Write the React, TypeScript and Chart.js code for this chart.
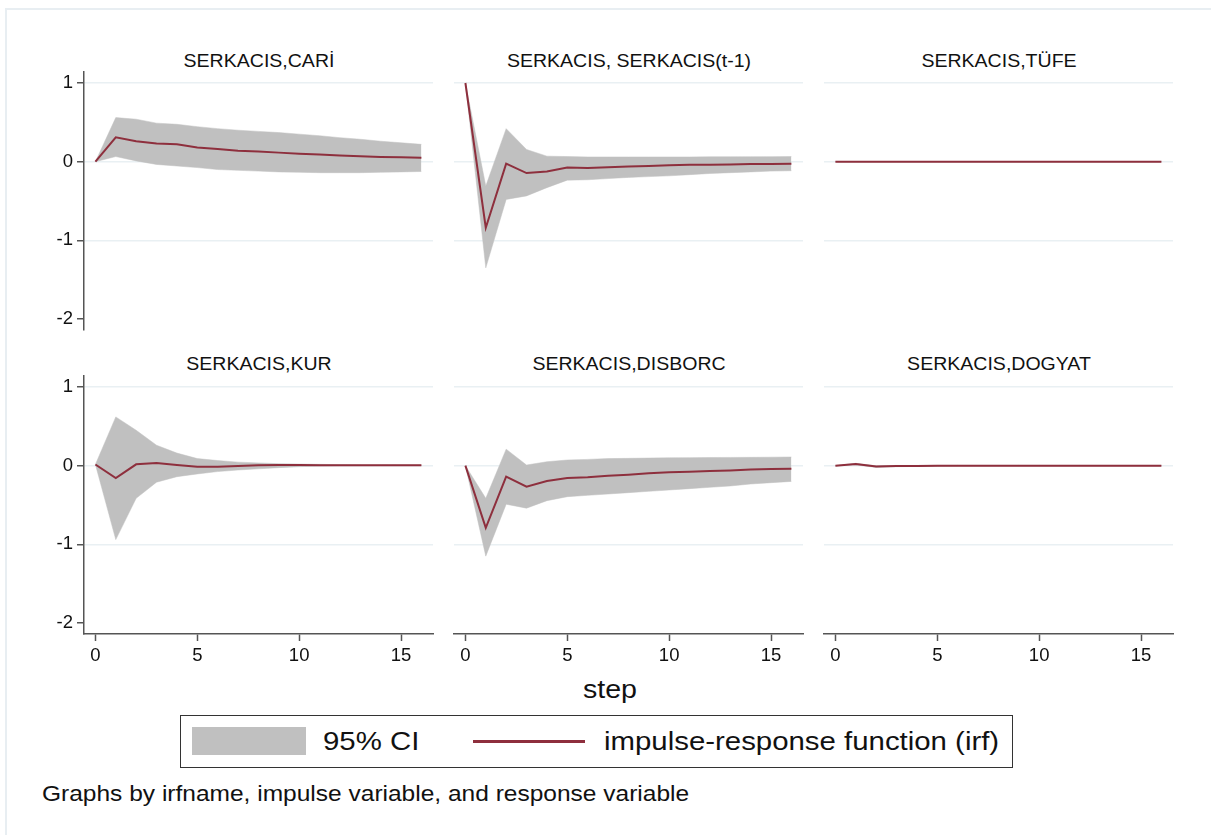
import React, { useEffect, useRef } from "react";
import { Chart, registerables } from "chart.js";

Chart.register(...registerables);

// ---------- data ----------
const steps = [0, 1, 2, 3, 4, 5, 6, 7, 8, 9, 10, 11, 12, 13, 14, 15, 16];
const xTicks = [0, 5, 10, 15];
const yTicks = [-2, -1, 0, 1];

const panelTitles = [
  "SERKACIS,CARİ",
  "SERKACIS, SERKACIS(t-1)",
  "SERKACIS,TÜFE",
  "SERKACIS,KUR",
  "SERKACIS,DISBORC",
  "SERKACIS,DOGYAT",
];

// SERKACIS -> CARİ
const cariIrf = [0, 0.31, 0.26, 0.23, 0.22, 0.18, 0.16, 0.14, 0.13, 0.115, 0.1, 0.09, 0.08, 0.07, 0.06, 0.055, 0.05];
const cariHi = [0, 0.56, 0.54, 0.49, 0.475, 0.445, 0.42, 0.4, 0.385, 0.37, 0.35, 0.33, 0.305, 0.285, 0.26, 0.24, 0.22];
const cariLo = [0, 0.065, 0.01, -0.035, -0.055, -0.075, -0.1, -0.11, -0.12, -0.13, -0.135, -0.14, -0.14, -0.14, -0.135, -0.13, -0.125];

// SERKACIS -> SERKACIS(t-1)
const ownIrf = [1, -0.84, -0.025, -0.145, -0.125, -0.075, -0.08, -0.07, -0.06, -0.055, -0.045, -0.04, -0.04, -0.035, -0.03, -0.03, -0.025];
const ownHi = [1, -0.31, 0.42, 0.155, 0.07, 0.065, 0.06, 0.06, 0.06, 0.06, 0.06, 0.06, 0.062, 0.062, 0.063, 0.064, 0.065];
const ownLo = [1, -1.35, -0.48, -0.435, -0.33, -0.235, -0.23, -0.215, -0.2, -0.19, -0.18, -0.165, -0.15, -0.14, -0.13, -0.12, -0.115];

// SERKACIS -> TÜFE
const tufeIrf = [0, 0, 0, 0, 0, 0, 0, 0, 0, 0, 0, 0, 0, 0, 0, 0, 0];
const tufeHi = [0, 0, 0, 0, 0, 0, 0, 0, 0, 0, 0, 0, 0, 0, 0, 0, 0];
const tufeLo = [0, 0, 0, 0, 0, 0, 0, 0, 0, 0, 0, 0, 0, 0, 0, 0, 0];

// SERKACIS -> KUR
const kurIrf = [0.015, -0.157, 0.017, 0.034, 0.008, -0.013, -0.013, -0.005, 0.004, 0.008, 0.007, 0.006, 0.006, 0.005, 0.005, 0.005, 0.005];
const kurHi = [0.015, 0.62, 0.45, 0.26, 0.16, 0.09, 0.065, 0.045, 0.035, 0.025, 0.02, 0.017, 0.012, 0.01, 0.01, 0.009, 0.009];
const kurLo = [0.015, -0.94, -0.415, -0.21, -0.14, -0.105, -0.075, -0.055, -0.04, -0.025, -0.013, -0.005, 0, 0, 0.001, 0.001, 0.001];

// SERKACIS -> DISBORC
const disIrf = [0, -0.79, -0.14, -0.267, -0.195, -0.157, -0.148, -0.127, -0.114, -0.097, -0.085, -0.076, -0.068, -0.06, -0.05, -0.042, -0.038];
const disHi = [0, -0.415, 0.21, 0.008, 0.05, 0.072, 0.08, 0.09, 0.093, 0.097, 0.1, 0.102, 0.104, 0.105, 0.106, 0.108, 0.11];
const disLo = [0, -1.15, -0.49, -0.54, -0.445, -0.394, -0.377, -0.36, -0.343, -0.326, -0.309, -0.292, -0.275, -0.258, -0.233, -0.216, -0.2];

// SERKACIS -> DOGYAT
const dogIrf = [0, 0.02, -0.012, -0.005, -0.003, -0.002, -0.001, 0, 0, 0, 0, 0, 0, 0, 0, 0, 0];
const dogHi = [0, 0.03, -0.002, 0.003, 0.003, 0.003, 0.003, 0.003, 0.003, 0.003, 0.003, 0.003, 0.003, 0.003, 0.003, 0.003, 0.003];
const dogLo = [0, 0.01, -0.022, -0.013, -0.009, -0.007, -0.005, -0.004, -0.003, -0.003, -0.003, -0.003, -0.003, -0.003, -0.003, -0.003, -0.003];

const panelSeries = [
  [cariIrf, cariLo, cariHi],
  [ownIrf, ownLo, ownHi],
  [tufeIrf, tufeLo, tufeHi],
  [kurIrf, kurLo, kurHi],
  [disIrf, disLo, disHi],
  [dogIrf, dogLo, dogHi],
];

// ---------- style ----------
const FONT = '"Liberation Sans", Arial, Helvetica, sans-serif';
const LINE = "#8e2f3d";
const BAND = "#c0c0c0";
const GRID = "#e9f0f3";
const AXIS = "#555555";

const PLOT_LEFT = [84, 454, 824];
const PLOT_TOP = [72, 376];
const PLOT_W = 349;
const PLOT_H = 258;
const Y_W = 45;
const X_H = 40;

function Panel({ idx }: { idx: number }) {
  const ref = useRef<HTMLCanvasElement | null>(null);
  const row = Math.floor(idx / 3);
  const col = idx % 3;
  const cw = Y_W + PLOT_W + 4;
  const ch = 2 + PLOT_H + (row === 1 ? X_H : 2);

  useEffect(() => {
    if (!ref.current) return;
    const [irf, lo, hi] = panelSeries[idx];
    const pts = (arr: number[]) => steps.map((s, i) => ({ x: s, y: arr[i] }));
    const chart = new Chart(ref.current, {
      type: "line",
      data: {
        datasets: [
          {
            data: pts(irf),
            borderColor: LINE,
            borderWidth: 2,
            pointRadius: 0,
            tension: 0,
            fill: false,
          },
          {
            data: pts(hi),
            borderColor: BAND,
            borderWidth: 0.5,
            backgroundColor: BAND,
            pointRadius: 0,
            tension: 0,
            fill: "+1",
          },
          {
            data: pts(lo),
            borderColor: BAND,
            borderWidth: 0.5,
            backgroundColor: BAND,
            pointRadius: 0,
            tension: 0,
            fill: false,
          },
        ],
      },
      options: {
        animation: false,
        responsive: false,
        devicePixelRatio: 1,
        events: [],
        layout: { padding: { left: 0, top: 2, right: 4, bottom: row === 1 ? 0 : 2 } },
        plugins: { legend: { display: false }, tooltip: { enabled: false }, title: { display: false } },
        scales: {
          x: {
            type: "linear",
            min: -0.56,
            max: 16.57,
            display: row === 1,
            afterBuildTicks: (s: any) => {
              s.ticks = xTicks.map((v) => ({ value: v }));
            },
            afterFit: (s: any) => {
              s.height = row === 1 ? X_H : 0;
              s.paddingLeft = 0;
              s.paddingRight = 0;
              s.paddingTop = 0;
              s.paddingBottom = 0;
            },
            grid: {
              drawOnChartArea: false,
              drawTicks: true,
              tickLength: 7,
              tickColor: AXIS,
              tickWidth: 1.5,
            },
            border: { display: true, color: AXIS, width: 1.5 },
            ticks: {
              font: { family: FONT, size: 18.5 },
              color: "#111",
              padding: 4,
              maxRotation: 0,
              autoSkip: false,
            },
          },
          y: {
            type: "linear",
            min: -2.14,
            max: 1.14,
            afterBuildTicks: (s: any) => {
              s.ticks = yTicks.map((v) => ({ value: v }));
            },
            afterFit: (s: any) => {
              s.width = Y_W;
              s.paddingLeft = 0;
              s.paddingRight = 0;
              s.paddingTop = 0;
              s.paddingBottom = 0;
            },
            grid: {
              color: (ctx: any) => (ctx.tick && ctx.tick.value === -2 ? "rgba(0,0,0,0)" : GRID),
              lineWidth: 1.5,
              drawTicks: col === 0,
              tickLength: 7,
              tickColor: AXIS,
              tickWidth: 1.5,
            },
            border: { display: col === 0, color: AXIS, width: 1.5 },
            ticks: {
              display: col === 0,
              font: { family: FONT, size: 18.5 },
              color: "#111",
              padding: 4,
              autoSkip: false,
            },
          },
        },
      } as any,
    });
    return () => chart.destroy();
  }, [idx]);

  return (
    <canvas
      ref={ref}
      width={cw}
      height={ch}
      style={{
        position: "absolute",
        left: PLOT_LEFT[col] - Y_W,
        top: PLOT_TOP[row] - 2,
        width: cw,
        height: ch,
      }}
    />
  );
}

function Label({
  text,
  x,
  y,
  size,
  align,
  sx,
}: {
  text: string;
  x: number;
  y: number;
  size: number;
  align: "left" | "center";
  sx: number;
}) {
  const tx = align === "center" ? "-50%" : "0";
  return (
    <div
      style={{
        position: "absolute",
        left: x,
        top: y,
        fontFamily: FONT,
        fontSize: size,
        lineHeight: 1,
        whiteSpace: "nowrap",
        color: "#111",
        transform: `translate(${tx}, -50%) scaleX(${sx})`,
        transformOrigin: align === "center" ? "50% 50%" : "0 50%",
      }}
    >
      {text}
    </div>
  );
}

export default function App() {
  useEffect(() => {
    document.body.style.overflow = "hidden";
  }, []);
  return (
    <div style={{ position: "absolute", left: 0, top: 0, width: 1211, height: 835, background: "#fff", overflow: "hidden" }}>
      <div
        style={{
          position: "absolute",
          left: 5,
          top: 8,
          width: 1300,
          height: 900,
          borderLeft: "2px solid #e8eef2",
          borderTop: "2px solid #e8eef2",
        }}
      />
      {panelTitles.map((t, i) => (
        <Label
          key={t}
          text={t}
          x={PLOT_LEFT[i % 3] + PLOT_W / 2}
          y={i < 3 ? 60.5 : 363.5}
          size={18}
          align="center"
          sx={1.085}
        />
      ))}
      {panelTitles.map((t, i) => (
        <Panel key={"p" + i} idx={i} />
      ))}
      <Label text="step" x={610} y={689} size={26} align="center" sx={1.1} />
      <div
        style={{
          position: "absolute",
          left: 180,
          top: 715,
          width: 833,
          height: 53,
          border: "1.5px solid #333",
          boxSizing: "border-box",
        }}
      />
      <div style={{ position: "absolute", left: 192, top: 727, width: 114, height: 28, background: BAND }} />
      <Label text="95% CI" x={323} y={741} size={26} align="left" sx={1.13} />
      <div style={{ position: "absolute", left: 473, top: 740, width: 112, height: 2.5, background: LINE }} />
      <Label text="impulse-response function (irf)" x={604} y={741} size={26} align="left" sx={1.13} />
      <Label
        text="Graphs by irfname, impulse variable, and response variable"
        x={42}
        y={795}
        size={21.5}
        align="left"
        sx={1.14}
      />
    </div>
  );
}
